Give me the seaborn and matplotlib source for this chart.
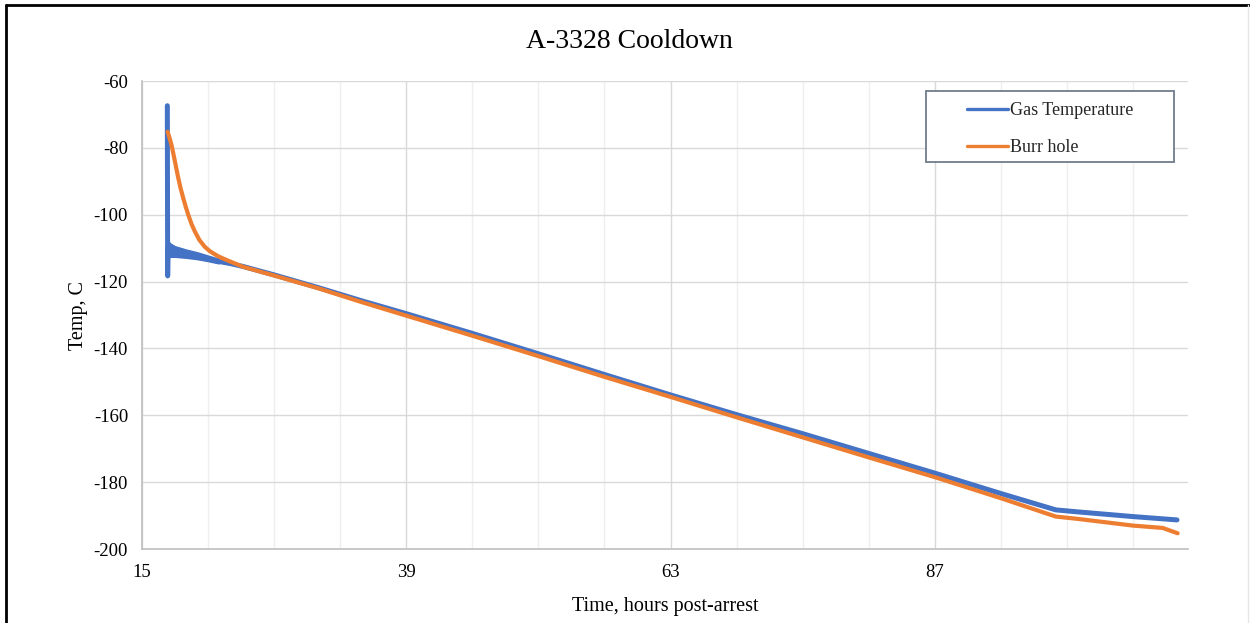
import numpy as np
import pandas as pd
import matplotlib
matplotlib.use('Agg')
import matplotlib.pyplot as plt
from matplotlib.lines import Line2D
from matplotlib.patches import Rectangle
from matplotlib.ticker import MultipleLocator
import seaborn as sns


# Datos (horas post-arrest, temperatura en C)
gas_hours = [17.30, 17.33, 17.36, 18.0, 19.0, 20.0, 21.0, 22.0, 23.0, 24.2,
             27.0, 31.0, 35.0, 39.0, 45.0, 51.0, 57.0, 63.0, 69.0, 75.0,
             81.0, 87.0, 93.0, 98.0, 100.0, 105.0, 109.0]
gas_temp = [-67.4, -118.3, -110.0, -110.8, -111.6, -112.4, -113.2, -114.0, -114.6, -115.5,
            -118.0, -121.8, -125.8, -129.6, -135.5, -141.6, -147.8, -153.9, -159.8, -165.5,
            -171.4, -177.3, -183.4, -188.3, -188.9, -190.3, -191.3]

# banda de ruido del gas al inicio
band_hours = [17.36, 17.6, 18.0, 19.0, 20.0, 21.0, 22.0]
band_hi = [-107.4, -108.4, -109.2, -110.2, -111.0, -112.0, -113.0]
band_lo = [-113.2, -112.8, -112.8, -113.1, -113.5, -114.1, -114.8]

burr_hours = [17.33, 17.5, 17.7, 17.85, 18.0, 18.15, 18.3, 18.5, 18.75, 19.0,
              19.2, 19.5, 19.8, 20.2, 20.7, 21.2, 21.9, 22.5, 23.15, 24.2,
              27.0, 31.0, 35.0, 39.0, 45.0, 51.0, 57.0, 63.0, 69.0, 75.0,
              81.0, 87.0, 93.0, 98.0, 100.0, 105.0, 107.7, 109.06]
burr_temp = [-75.2, -77.0, -79.4, -81.8, -84.2, -86.7, -89.1, -92.0, -95.1, -97.9,
             -100.0, -102.8, -105.0, -107.5, -109.6, -111.0, -112.4, -113.3, -114.2, -115.6,
             -118.2, -122.0, -126.2, -130.2, -136.2, -142.3, -148.5, -154.5, -160.6, -166.6,
             -172.6, -178.5, -184.8, -190.3, -191.0, -193.0, -193.7, -195.3]

gas = pd.DataFrame({'hours': gas_hours, 'temp': gas_temp})
burr = pd.DataFrame({'hours': burr_hours, 'temp': burr_temp})

blue = '#4472C4'
orange = '#ED7D31'


# Grafico
sns.set_theme(style='white')
plt.rcParams['font.family'] = ['Liberation Serif', 'DejaVu Serif']
plt.rcParams['axes.unicode_minus'] = False

fig = plt.figure(figsize=(12.5, 6.23), dpi=100)
ax = fig.add_axes([142 / 1250, 74 / 623, 1046 / 1250, 468 / 623])

ax.fill_between(band_hours, band_lo, band_hi, color=blue, linewidth=0, zorder=2)
sns.lineplot(x='hours', y='temp', data=gas, color=blue, linewidth=3.6,
             estimator=None, ax=ax, label='Gas Temperature', zorder=3)
sns.lineplot(x='hours', y='temp', data=burr, color=orange, linewidth=3.0,
             estimator=None, ax=ax, label='Burr hole', zorder=4)

ax.set_xlim(15, 110)
ax.set_ylim(-200, -60)
ax.xaxis.set_major_locator(MultipleLocator(24, offset=15))
ax.xaxis.set_minor_locator(MultipleLocator(6, offset=3))
ax.yaxis.set_major_locator(MultipleLocator(20))
ax.yaxis.set_minor_locator(MultipleLocator(4))

ax.grid(which='major', axis='both', color='#d9d9d9', linewidth=1.0)
ax.grid(which='minor', axis='x', color='#efefef', linewidth=1.0)
ax.set_axisbelow(True)

for s in ['top', 'right']:
    ax.spines[s].set_visible(False)
for s in ['left', 'bottom']:
    ax.spines[s].set_color('#bfbfbf')
    ax.spines[s].set_linewidth(1.2)

ax.tick_params(axis='x', which='major', length=3, direction='out', color='#bfbfbf',
               pad=8, labelsize=13.5, labelcolor='black')
ax.tick_params(axis='x', which='minor', length=3, direction='out', color='#bfbfbf')
ax.tick_params(axis='y', which='major', length=0, pad=10, labelsize=13.5, labelcolor='black')
ax.tick_params(axis='y', which='minor', length=4, direction='in', color='#bfbfbf')

ax.set_xlabel('Time, hours post-arrest', fontsize=14.5, color='black')
ax.set_ylabel('Temp, C', fontsize=14.5, color='black')
ax.xaxis.set_label_coords(0.5, -0.102)
ax.yaxis.set_label_coords(-0.052, 0.5)

# leyenda con marco aparte
ax.add_patch(Rectangle((0.7495, 0.827), 0.2371, 0.1517, transform=ax.transAxes,
                       facecolor='white', edgecolor='#6f7d8c', linewidth=1.3, zorder=5))
leg = ax.legend(loc='center', bbox_to_anchor=(0.868, 0.897), frameon=False,
                fontsize=13, handlelength=2.3, handletextpad=0.1, labelspacing=1.1)
leg.set_zorder(6)
for line in leg.get_lines():
    line.set_linewidth(2.4)

fig.text(629 / 1250, 1 - 48 / 623, 'A-3328 Cooldown', ha='center', va='baseline',
         fontsize=20, color='black')

# borde del area del grafico
fig.add_artist(Line2D([6 / 1250, 6 / 1250], [0, 1 - 5 / 623], color='black',
                      linewidth=2, transform=fig.transFigure))
fig.add_artist(Line2D([6 / 1250, 1], [1 - 5 / 623, 1 - 5 / 623], color='black',
                      linewidth=2, transform=fig.transFigure))
fig.add_artist(Line2D([1248 / 1250, 1248 / 1250], [0, 1 - 5 / 623], color='#e6e6e6',
                      linewidth=1, transform=fig.transFigure))

fig.savefig('out.png', dpi=100)
